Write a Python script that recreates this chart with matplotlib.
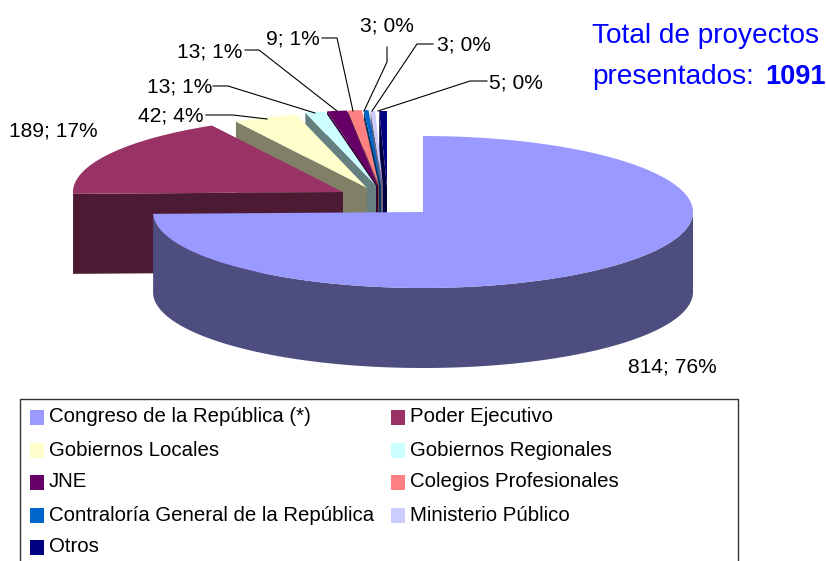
"""Exploded 3D-looking pie of bills presented per institution, Excel style."""
import matplotlib
matplotlib.use("Agg")
import matplotlib.pyplot as plt
import numpy as np
from matplotlib.patches import Polygon, Rectangle

plt.rcParams["font.family"] = ["Liberation Sans", "DejaVu Sans"]

names = ["Congreso de la República (*)", "Poder Ejecutivo", "Gobiernos Locales",
         "Gobiernos Regionales", "JNE", "Colegios Profesionales",
         "Contraloría General de la República", "Ministerio Público", "Otros"]
values = [814, 189, 42, 13, 13, 9, 3, 3, 5]
percents = [76, 17, 4, 1, 1, 1, 0, 0, 0]
colors = ["#9999FF", "#993366", "#FFFFCC", "#CCFFFF", "#660066",
          "#FF8080", "#0066CC", "#CCCCFF", "#000080"]
walls = ["#4D4D80", "#4D1A33", "#808066", "#668080", "#330033",
         "#804040", "#003366", "#666680", "#000040"]

# pixel layout
W, H = 826, 561
RX, RY, DEPTH = 270, 76, 80
centers = [(423, 212), (343, 192), (367, 188), (376, 186), (378, 186),
           (379, 186), (381, 186), (383, 187), (387, 187)]
label_pos = [(628, 372), (9, 136), (138, 121), (147, 92), (177, 57),
             (266, 44), (360, 31), (437, 50), (489, 88)]
leaders = [None, None,
           [(206, 115), (233, 115), (267, 119)],
           [(213, 86), (228, 86), (315, 113)],
           [(245, 50), (259, 50), (337, 111)],
           [(322, 38), (337, 38), (353, 111)],
           [(387, 47), (387, 62), (364, 111)],
           [(433, 44), (417, 44), (372, 111)],
           [(487, 81), (470, 81), (378, 111)]]
legend_y = [417.5, 450.5, 482.5, 515.5, 547.5]
legend_base = [422, 456, 487, 521, 552]
legend_x = [30, 391]

fig = plt.figure(figsize=(W / 100, H / 100), dpi=100)
ax = fig.add_axes([0, 0, 1, 1])
ax.set_xlim(0, W)
ax.set_ylim(H, 0)
ax.axis("off")

total = sum(values)
edges = 90 - np.cumsum([0] + values) / total * 360

# back slices first, each one covers the cut face of its right neighbour
for i in reversed(range(len(values))):
    cx, cy = centers[i]
    a1, a2 = edges[i], edges[i + 1]
    t = np.radians(np.linspace(a2, a1, 400))
    rim = np.column_stack([cx + RX * np.cos(t), cy - RY * np.sin(t)])
    # cut face at the clockwise start of the slice
    p = rim[-1]
    ax.add_patch(Polygon([(cx, cy), p, (p[0], p[1] + DEPTH), (cx, cy + DEPTH)],
                         fc=walls[i], ec="none", zorder=2))
    # outer wall, only the part facing the viewer
    front = rim[np.sin(t) < 0]
    if len(front) > 1:
        low = front[::-1] + [0, DEPTH]
        ax.add_patch(Polygon(np.vstack([front, low]), fc=walls[i], ec="none", zorder=2))
    ax.add_patch(Polygon(np.vstack([[(cx, cy)], rim]), fc=colors[i], ec="none", zorder=2))

for i, (x, y) in enumerate(label_pos):
    ax.text(x, y, f"{values[i]}; {percents[i]}%", fontsize=15.1, color="black",
            ha="left", va="baseline", zorder=4)
    if leaders[i]:
        ax.plot(*zip(*leaders[i]), color="black", lw=0.8, zorder=3)

# total box, top right
ax.text(592, 43, "Total de proyectos", fontsize=20.2, color="#0000FF", va="baseline")
ax.text(592, 84, "presentados:", fontsize=20.2, color="#0000FF", va="baseline")
ax.text(765, 84, "1091", fontsize=19.5, color="#0000FF", va="baseline", fontweight="bold")

# legend frame runs off the bottom of the picture
ax.plot([20, 20, 738, 738], [H + 5, 399, 399, H + 5], color="#333333", lw=1, zorder=3)
for i, name in enumerate(names):
    row, col = i // 2, i % 2
    x = legend_x[col]
    ax.add_patch(Rectangle((x, legend_y[row] - 7.5), 14, 15, fc=colors[i], ec="none", zorder=3))
    ax.text(x + 19, legend_base[row], name, fontsize=14.7, color="black", va="baseline", zorder=4)

fig.savefig("out.png", dpi=100)
plt.close(fig)
